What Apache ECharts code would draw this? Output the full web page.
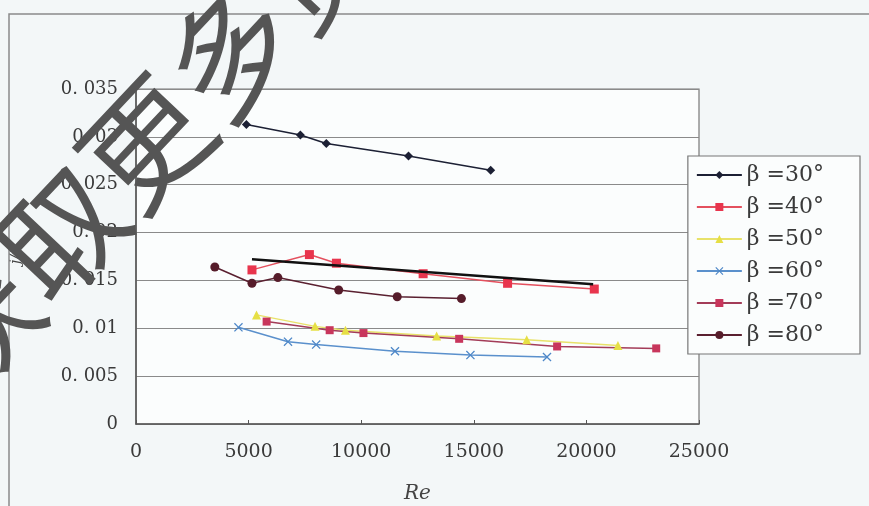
<!DOCTYPE html>
<html>
<head>
<meta charset="utf-8">
<script src="https://cdn.jsdelivr.net/npm/echarts@6/dist/echarts.min.js"></script>
<style>
  html, body { margin: 0; padding: 0; background: #f3f7f8; }
  #chart { width: 869px; height: 506px; }
</style>
</head>
<body>
<div id="chart"></div>
<script>
// Friction factor vs Reynolds number for several inclination angles β
const seriesNames = ['β =30°', 'β =40°', 'β =50°', 'β =60°', 'β =70°', 'β =80°'];

const beta30 = [[4900, 0.0313], [7300, 0.0302], [8450, 0.0293], [12100, 0.0280], [15750, 0.0265]];
const beta40 = [[5150, 0.0161], [7700, 0.0177], [8900, 0.0168], [12750, 0.0157], [16500, 0.0147], [20350, 0.0141]];
const beta50 = [[5350, 0.0114], [7950, 0.0102], [9300, 0.0098], [13350, 0.0092], [17350, 0.0088], [21400, 0.0082]];
const beta60 = [[4550, 0.0101], [6750, 0.0086], [8000, 0.0083], [11500, 0.0076], [14850, 0.0072], [18250, 0.0070]];
const beta70 = [[5800, 0.0107], [8600, 0.0098], [10100, 0.0095], [14350, 0.0089], [18700, 0.0081], [23100, 0.0079]];
const beta80 = [[3500, 0.0164], [5150, 0.0147], [6300, 0.0153], [9000, 0.0140], [11600, 0.0133], [14450, 0.0131]];
// fitted trend through the β=40° points
const trend40 = [[5150, 0.0172], [12700, 0.0159], [20300, 0.0146]];

const xTicks = ['0', '5000', '10000', '15000', '20000', '25000'];
const yTicks = ['0', '0. 005', '0. 01', '0. 015', '0. 02', '0. 025', '0. 03', '0. 035'];

const seriesData = [beta30, beta40, beta50, beta60, beta70, beta80];
const markerColors = ['#1c2034', '#e8354d', '#e6df45', '#4d87c8', '#c8365c', '#561c2a'];
const lineColors   = ['#1c2034', '#e4505e', '#e8e26a', '#5a90cc', '#a33c58', '#5a2030'];
const symbols = [
  'diamond',
  'rect',
  'triangle',
  'path://M0,1 L1,0 L5,4 L9,0 L10,1 L6,5 L10,9 L9,10 L5,6 L1,10 L0,9 L4,5 Z',
  'rect',
  'circle'
];
const symbolSizes = [9, 9, 9, 9, 8, 9];

const serif = '"DejaVu Serif", "Liberation Serif", serif';

const chart = echarts.init(document.getElementById('chart'), null, { renderer: 'canvas' });

const series = seriesData.map((d, i) => ({
  name: seriesNames[i],
  type: 'line',
  data: d,
  symbol: symbols[i],
  symbolSize: symbolSizes[i],
  showAllSymbol: true,
  itemStyle: { color: markerColors[i] },
  lineStyle: { color: lineColors[i], width: 1.5 },
  emphasis: { disabled: true },
  z: 3
}));

series.push({
  name: 'trend',
  type: 'line',
  data: trend40,
  symbol: 'none',
  lineStyle: { color: '#111111', width: 2.5 },
  emphasis: { disabled: true },
  z: 4
});

chart.setOption({
  animation: false,
  backgroundColor: '#f3f7f8',
  grid: {
    left: 136, right: 170, top: 89, bottom: 82,
    show: true,
    backgroundColor: '#fbfdfd',
    borderColor: '#777777',
    borderWidth: 1.2,
    outerBoundsMode: 'none'
  },
  xAxis: {
    type: 'value',
    min: 0, max: 25000, interval: 5000,
    name: 'Re',
    nameLocation: 'middle',
    nameGap: 60,
    nameTextStyle: { fontFamily: serif, fontStyle: 'italic', fontSize: 20, color: '#444' },
    axisLine: { show: true, lineStyle: { color: '#555555', width: 1.5 } },
    axisTick: { show: true, inside: true, length: 4, lineStyle: { color: '#555555' } },
    axisLabel: {
      margin: 19,
      fontFamily: serif, fontSize: 19, color: '#3a3a3a',
      formatter: (v) => xTicks[Math.round(v / 5000)]
    },
    splitLine: { show: false }
  },
  yAxis: {
    type: 'value',
    min: 0, max: 0.035, interval: 0.005,
    name: 'j/f',
    nameLocation: 'middle',
    nameGap: 112,
    nameRotate: 90,
    nameTextStyle: { fontFamily: serif, fontStyle: 'italic', fontSize: 15, color: '#444' },
    axisLine: { show: true, lineStyle: { color: '#555555', width: 1.5 } },
    axisTick: { show: false },
    axisLabel: {
      margin: 18,
      fontFamily: serif, fontSize: 18, color: '#3a3a3a',
      formatter: (v) => yTicks[Math.round(v / 0.005)]
    },
    splitLine: { show: true, lineStyle: { color: '#8a8a8a', width: 1.2 } }
  },
  legend: {
    orient: 'vertical',
    right: 9,
    top: 156,
    data: seriesNames,
    itemWidth: 45,
    itemHeight: 10,
    itemGap: 10,
    padding: [8, 36, 8, 8],
    backgroundColor: '#fbfdfd',
    borderColor: '#777777',
    borderWidth: 1.2,
    borderRadius: 0,
    textStyle: { fontFamily: serif, fontSize: 22, color: '#3a3a3a', lineHeight: 22 },
    selectedMode: false
  },
  series: series,
  graphic: [
    {
      type: 'rect',
      silent: true,
      shape: { x: 9, y: 14, width: 900, height: 540 },
      style: { fill: 'none', stroke: '#8a8a8a', lineWidth: 1.5 },
      z: 1
    },
    {
      type: 'text',
      silent: true,
      x: 188, y: 98,
      rotation: 0.815,
      style: {
        text: '获取更多资料',
        fontFamily: '"Noto Sans CJK SC", sans-serif',
        fontWeight: 'normal',
        fontSize: 124,
        fill: '#555555',
        align: 'center',
        verticalAlign: 'middle'
      },
      z: 100
    }
  ]
});
</script>
</body>
</html>
